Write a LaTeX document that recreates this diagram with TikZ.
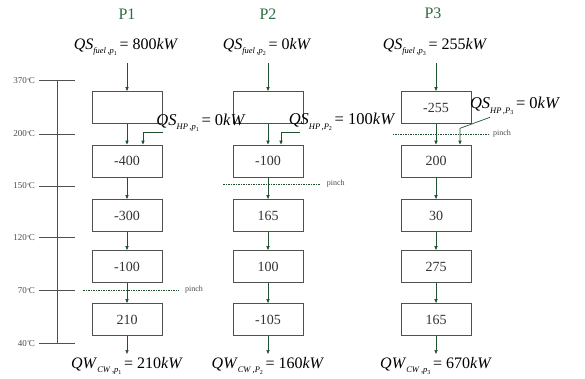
\documentclass[tikz,border=0pt]{standalone}
\usepackage{fontspec}
\setmainfont{Liberation Serif}
\usetikzlibrary{arrows.meta}
\definecolor{dg}{HTML}{1F5230}
\definecolor{tg}{HTML}{2E6B40}
\definecolor{bx}{HTML}{505050}
\newcommand\qq[5]{\textit{#1}\raisebox{-0.55ex}{\fontsize{8.5}{8.5}\selectfont\textit{#2}\,,\textit{#3}\raisebox{-0.35ex}{\fontsize{6}{6}\selectfont #4}}\,= #5\textit{kW}}
\newcommand\tc[1]{#1\kern0.05em\raisebox{0.35ex}{\fontsize{6}{6}\selectfont°}\kern-0.1em C}
\begin{document}
\begin{tikzpicture}[x=1pt,y=-1pt,
  bnode/.style={draw=bx,line width=0.9pt,minimum width=70pt,minimum height=32pt,inner sep=0pt,font=\fontsize{14}{14}\selectfont,text=black!80},
  arr/.style={draw=dg,line width=0.7pt,-{Triangle[width=3.2pt,length=4pt]}},
  ttl/.style={text=tg,font=\fontsize{16}{16}\selectfont},
  frm/.style={font=\fontsize{16}{16}\selectfont,inner sep=0pt},
  frmh/.style={font=\fontsize{16.5}{16.5}\selectfont,inner sep=0pt},
  tlab/.style={anchor=east,font=\fontsize{9}{9}\selectfont,text=black!70,inner sep=0pt},
  tick/.style={draw=bx,line width=1pt},
  pinch/.style={draw=dg,dashed,dash pattern=on 1.5pt off 1pt,line width=0.6pt},
  plab/.style={anchor=west,font=\fontsize{8}{8}\selectfont,text=black!70,inner sep=0pt}]
\useasboundingbox (0,0) rectangle (585,378);
% temperature scale
\draw[tick] (57.7,80.7) -- (57.7,343.3);
\foreach \y/\t/\n in {80.7/370/a,134/200/b,186/150/c,237.7/120/d,290.7/70/e,343.3/40/f}{
  \draw[tick] (39,\y) -- (75,\y);
  \node[tlab] (T\n) at (35,\y) {\tc{\t}};
}
% titles
\node[ttl] (P1) at (127,14) {P1};
\node[ttl] (P2) at (268,14) {P2};
\node[ttl] (P3) at (433,13) {P3};
% top formulas
\node[frm] (f1) at (126,47) {\qq{QS}{fuel}{p}{1}{800}};
\node[frm] (f2) at (267,47) {\qq{QS}{fuel}{p}{2}{0}};
\node[frm] (f3) at (435,47) {\qq{QS}{fuel}{p}{3}{255}};
% bottom formulas
\node[frm] (w1) at (127,366) {\qq{QW}{CW}{p}{1}{210}};
\node[frm] (w2) at (268,366) {\qq{QW}{CW}{P}{2}{160}};
\node[frm] (w3) at (436,366) {\qq{QW}{CW}{p}{3}{670}};
% boxes
\foreach \c/\x/\va/\vb/\vc/\vd/\ve in {1/127/{}/-400/-300/-100/210, 2/268/{}/-100/165/100/-105, 3/436/-255/200/30/275/165}{
  \node[bnode] (b\c1) at (\x,107.5) {\va};
  \node[bnode] (b\c2) at (\x,161) {\vb};
  \node[bnode] (b\c3) at (\x,215.5) {\vc};
  \node[bnode] (b\c4) at (\x,266.5) {\vd};
  \node[bnode] (b\c5) at (\x,319.5) {\ve};
  \coordinate (s\c) at (\x,63);
  \coordinate (e\c) at (\x,354);
  \draw[arr] (s\c) -- (b\c1.north);
  \draw[arr] (b\c1.south) -- (b\c2.north);
  \draw[arr] (b\c2.south) -- (b\c3.north);
  \draw[arr] (b\c3.south) -- (b\c4.north);
  \draw[arr] (b\c4.south) -- (b\c5.north);
  \draw[arr] (b\c5.south) -- (e\c);
}
% pinch lines
\draw[pinch] (83,290.7) -- (179,290.7);
\node[plab] (pl1) at (185,290) {pinch};
\draw[pinch] (223,184.3) -- (320,184.3);
\node[plab] (pl2) at (326.7,183.5) {pinch};
\draw[pinch] (392.7,134.3) -- (488.3,134.3);
\node[plab] (pl3) at (493,133.5) {pinch};
% HP inputs
\node[frmh] (h1) at (201,123) {\qq{QS}{HP}{p}{1}{0}};
\node[frmh] (h2) at (342,122) {\qq{QS}{HP}{P}{2}{100}};
\node[frmh] (h3) at (515,106) {\qq{QS}{HP}{P}{3}{0}};
\coordinate (c1) at (163,132.3);
\coordinate (c2) at (300,132.3);
\coordinate (c3) at (490,117.3);
\coordinate (k3) at (460,128.3);
\draw[arr] (c1) -| ([xshift=16pt]b12.north);
\draw[arr] (c2) -| ([xshift=13pt]b22.north);
\draw[arr] (c3) -- (k3) -- ([xshift=24pt]b32.north);
\end{tikzpicture}
\end{document}
